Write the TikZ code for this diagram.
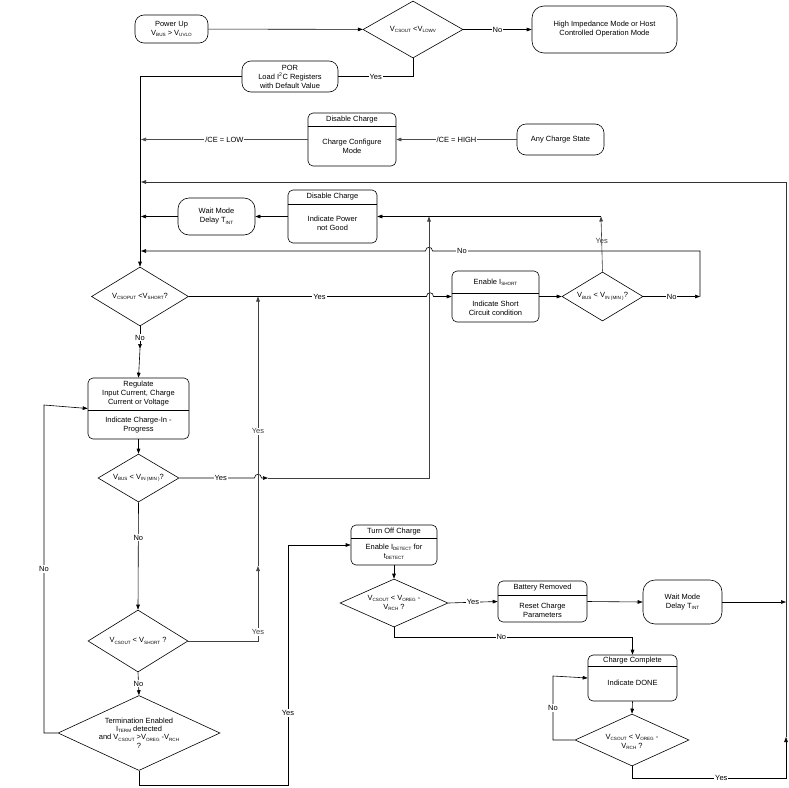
\documentclass[tikz,border=0pt]{standalone}
\usepackage{fontspec}
\setmainfont{Liberation Sans}
\usetikzlibrary{shapes.geometric,arrows.meta}
\newcommand\sbx[1]{\raisebox{-0.35ex}{\fontsize{4.6}{5}\selectfont #1}}
\begin{document}
\begin{tikzpicture}[x=1pt,y=-1pt, font=\fontsize{7.5}{9}\selectfont,
 term/.style={draw, rounded corners=9pt, line width=0.6pt, inner sep=0, align=center},
 pbox/.style={draw, rounded corners=5pt, line width=0.6pt, inner sep=0},
 dia/.style={draw, diamond, line width=0.6pt, inner sep=0},
 txt/.style={inner sep=0, align=center},
 lbl/.style={fill=white, inner sep=1pt},
 ln/.style={line width=0.6pt},
 arr/.style={ln, -{Triangle[length=5pt,width=3.6pt]}},
 ]
\useasboundingbox (0,0) rectangle (789,787);
\fill[white] (0,0) rectangle (789,787);

% terminals
\node[term, minimum width=73pt, minimum height=28pt] (pu) at (171.5,29) {Power Up\\V\sbx{BUS} > V\sbx{UVLO}};
\node[term, minimum width=145pt, minimum height=47pt, rounded corners=12pt] (hi) at (604.5,29.5) {High Impedance Mode or Host\\Controlled Operation Mode};
\node[term, minimum width=96pt, minimum height=31pt] (por) at (290,76.5) {POR\\Load I\textsuperscript{2}C Registers\\with Default Value};
\node[term, minimum width=87pt, minimum height=31pt] (any) at (560.5,139.5) {Any Charge State};
\node[term, minimum width=77pt, minimum height=37pt, rounded corners=11pt] (wm1) at (216.5,216.5) {Wait Mode\\Delay T\sbx{INT}};
\node[term, minimum width=79pt, minimum height=44pt, rounded corners=12pt] (wm2) at (682.5,602) {Wait Mode\\Delay T\sbx{INT}};

% two-part boxes
\node[pbox, minimum width=88pt, minimum height=53pt] (cfg) at (352,139.5) {};
\draw[ln] (308,126) -- (396,126);
\node[txt] (cfgh) at (352,119.5) {Disable Charge};
\node[txt] (cfgb) at (352,146) {Charge Configure\\Mode};

\node[pbox, minimum width=89pt, minimum height=53pt] (png) at (332.5,216.5) {};
\draw[ln] (288,204) -- (377,204);
\node[txt] (pngh) at (332.5,197) {Disable Charge};
\node[txt] (pngb) at (332.5,223.5) {Indicate Power\\not Good};

\node[pbox, minimum width=101pt, minimum height=61pt] (reg) at (138.5,408.5) {};
\draw[ln] (88,410) -- (189,410);
\node[txt] (regh) at (138.5,394) {Regulate\\Input Current, Charge\\Current or Voltage};
\node[txt] (regb) at (138.5,425) {Indicate Charge-In -\\Progress};

\node[pbox, minimum width=87pt, minimum height=51pt] (ish) at (495.5,296.5) {};
\draw[ln] (452,293) -- (539,293);
\node[txt] (ishh) at (495.5,282) {Enable I\sbx{SHORT}};
\node[txt] (ishb) at (495.5,308) {Indicate Short\\Circuit condition};

\node[pbox, minimum width=86pt, minimum height=40pt] (toc) at (394,545) {};
\draw[ln] (351,538) -- (437,538);
\node[txt] (toch) at (394,531.5) {Turn Off Charge};
\node[txt] (tocb) at (394,551.5) {Enable I\sbx{DETECT} for\\t\sbx{DETECT}};

\node[pbox, minimum width=89pt, minimum height=41pt] (bat) at (542.5,601.5) {};
\draw[ln] (498,595) -- (587,595);
\node[txt] (bath) at (542.5,588) {Battery Removed};
\node[txt] (batb) at (542.5,610) {Reset Charge\\Parameters};

\node[pbox, minimum width=89pt, minimum height=46pt] (cc) at (632.5,678) {};
\draw[ln] (588,666) -- (677,666);
\node[txt] (cch) at (632.5,660.5) {Charge Complete};
\node[txt] (ccb) at (632.5,683) {Indicate DONE};

% diamonds
\node[dia, minimum width=100pt, minimum height=57pt] (d1) at (413,29.5) {};
\node[txt] (t1) at (413,29.5) {V\sbx{CSOUT} <V\sbx{LOWV}};
\node[dia, minimum width=97pt, minimum height=59pt] (d2) at (140,296.5) {};
\node[txt] (t2) at (140,296.5) {V\sbx{CSOPUT} <V\sbx{SHORT}?};
\node[dia, minimum width=81pt, minimum height=49pt] (d3) at (602.5,296.5) {};
\node[txt] (t3) at (602.5,296.5) {V\sbx{BUS} < V\sbx{IN (MIN )}?};
\node[dia, minimum width=81pt, minimum height=48pt] (d4) at (138.5,478) {};
\node[txt] (t4) at (138.5,478) {V\sbx{BUS} < V\sbx{IN (MIN )}?};
\node[dia, minimum width=100pt, minimum height=62pt] (d5) at (138,641) {};
\node[txt] (t5) at (138,641) {V\sbx{CSOUT} < V\sbx{SHORT} ?};
\node[dia, minimum width=162pt, minimum height=75pt] (d7) at (139,733) {};
\node[txt, font=\fontsize{7.5}{8.4}\selectfont] (t7) at (139,733) {Termination Enabled\\I\sbx{TERM} detected\\and V\sbx{CSOUT} >V\sbx{OREG} -V\sbx{RCH}\\?};
\node[dia, minimum width=108pt, minimum height=48pt] (d8) at (394,603) {};
\node[txt] (t8) at (394,603) {V\sbx{CSOUT} < V\sbx{OREG} -\\V\sbx{RCH} ?};
\node[dia, minimum width=114pt, minimum height=52pt] (d6) at (632,740) {};
\node[txt] (t6) at (632,742) {V\sbx{CSOUT} < V\sbx{OREG} -\\V\sbx{RCH} ?};

% free-end coordinates
\coordinate (m1) at (141,139.5);
\coordinate (m2) at (141,182);
\coordinate (m3) at (141,216.5);
\coordinate (m4) at (141,251);
\coordinate (n1) at (140,349);
\coordinate (rgt) at (786,602);
\coordinate (up1) at (786,737);
\coordinate (jY) at (601,216.5);
\coordinate (jX) at (429,216.5);
\coordinate (nR) at (700,296.5);
\coordinate (vy1) at (258,566);
\coordinate (vy2) at (268,478);

% connectors
\draw[arr] (pu) -- (d1);
\draw[arr] (d1) -- node[lbl] {No} (hi);
\draw[ln] (d1.south) |- node[lbl, pos=0.75] {Yes} (por.east);
\draw[arr] (por.west) -| (d2.north);
\draw[arr, black!70] (cfg.west) -- node[lbl, text=black, pos=0.5] {/CE = LOW} (m1);
\draw[arr, black!70] (any.west) -- node[lbl, text=black] {/CE = HIGH} (cfg.east);
\draw[arr] (png.west) -- (wm1.east);
\draw[arr] (wm1.west) -- (m3);
\draw[arr] (jY) -- (png.east);
\draw[arr, black!75] (d3.north) -- node[lbl, pos=0.55, fill=none] {Yes} (jY);
\draw[arr] (d3.east) -- node[lbl] {No} (nR);
\draw[arr] (nR) -- (700,251) -- node[lbl, pos=0.89] {No} (432.5,251) .. controls (432.5,246) and (425.5,246) .. (425.5,251) -- (m4);
\draw[arr] (d2.east) -- node[lbl, pos=0.55] {Yes} (426.5,296.5) .. controls (426.5,291.5) and (433.5,291.5) .. (433.5,296.5) -- (ish.west);
\draw[arr] (ish.east) -- (d3.west);
\draw[arr] (d2.south) -- node[lbl, pos=0.5] {No} (n1);
\draw[arr] (n1) -- (reg.north);
\draw[arr] (reg.south) -- (d4.north);
\draw[arr] (d4.south) -- node[lbl, pos=0.33] {No} (d5.north);
\draw[arr] (d4.east) -- node[lbl, pos=0.55] {Yes} (254.5,478) .. controls (254.5,473) and (261.5,473) .. (261.5,478) -- (vy2);
\draw[arr, black!75] (vy2) -- (429,478) -- (jX);
\draw[arr, black!75] (d5.east) -| node[lbl, pos=0.56] {Yes} (vy1);
\draw[arr, black!75] (vy1) -- node[lbl, pos=0.5] {Yes} (258,296.5);
\draw[arr] (d5.south) -- node[lbl, pos=0.5] {No} (d7.north);
\draw[arr] (d7.west) -- (44,733) -- node[lbl] {No} (44,405) -- (reg.west);
\draw[arr] (d7.south) -- (139,785) -- (288,785) -- node[lbl, pos=0.3] {Yes} (288,545) -- (toc.west);
\draw[arr] (toc.south) -- (d8.north);
\draw[arr] (d8.east) -- node[lbl] {Yes} (bat.west);
\draw[arr] (d8.south) -- (394,637) -- node[lbl, pos=0.45] {No} (632.5,637) -- (cc.north);
\draw[arr] (bat.east) -- (wm2.west);
\draw[arr] (wm2.east) -- (rgt);
\draw[arr] (cc.south) -- (d6.north);
\draw[arr] (d6.west) -- (553,740) -- node[lbl] {No} (553,676) -- (cc.west);
\draw[arr] (d6.south) -- (632,778) -- node[lbl, pos=0.58] {Yes} (786,778) -- (up1);
\draw[arr, black!80] (up1) -- (786,182) -- (m2);
\end{tikzpicture}
\end{document}
